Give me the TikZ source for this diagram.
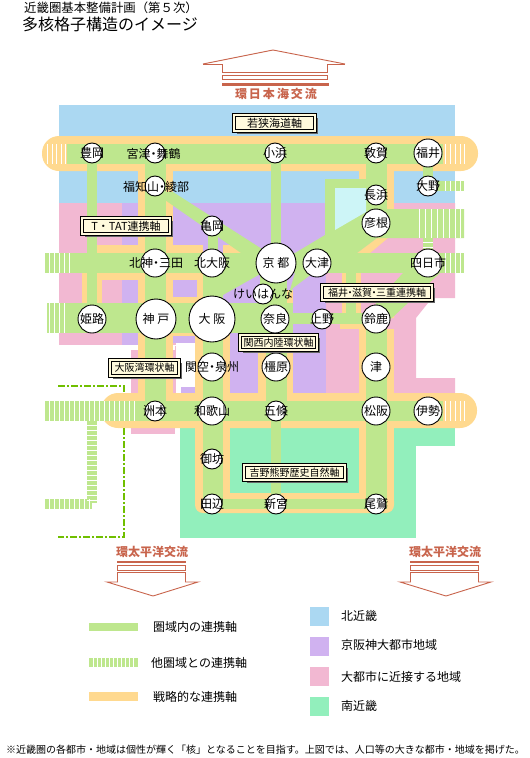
\documentclass[tikz,border=0pt]{standalone}
\usepackage{fontspec}
\newfontfamily\jp{Noto Sans CJK JP}
\usetikzlibrary{shadows}
\definecolor{cblue}{HTML}{ABD8F2}
\definecolor{cpurple}{HTML}{D0B2F0}
\definecolor{cpink}{HTML}{F2B8D2}
\definecolor{csouth}{HTML}{92EFBC}
\definecolor{clake}{HTML}{CDF5F7}
\definecolor{caxis}{HTML}{BEE78E}
\definecolor{cstrat}{HTML}{FFD98F}
\definecolor{ccoral}{HTML}{C8644C}
\definecolor{ccream}{HTML}{FFFADC}
\definecolor{cdash}{HTML}{70BF00}
\newcommand{\fs}[1]{\fontsize{#1}{#1}\selectfont}
\newcommand{\dt}{\kern-3pt・\kern-3pt}
\tikzset{
  blue region/.style={fill=cblue},
  purple region/.style={fill=cpurple},
  pink region/.style={fill=cpink},
  south region/.style={fill=csouth},
  axis/.style={fill=caxis},
  strat/.style={fill=cstrat},
  gap/.style={draw=white,line width=1pt},
  city/.style={circle,draw=black,fill=white,line width=0.9pt,inner sep=0pt,minimum size=2*#1 pt},
  citytext/.style={font=\jp\fs{12},inner sep=0pt,text=black},
  axislabel/.style={draw=black,double=ccream,double distance=1.3pt,line width=0.9pt,fill=ccream,inner sep=0pt,
    font=\jp\fs{#1},drop shadow={shadow xshift=2.5pt,shadow yshift=-2.5pt,fill=black!60,opacity=1}},
  outline/.style={draw=ccoral,line width=0.9pt},
  flowtext/.style={font=\jp\bfseries\fs{12},text=ccoral,inner sep=0pt},
  legendtext/.style={font=\jp\fs{12},anchor=west,inner sep=0pt},
  dashdot/.style={draw=cdash,line width=1.5pt,dash pattern=on 7pt off 2pt on 2pt off 2pt}
}
\begin{document}
\begin{tikzpicture}[x=1pt,y=-1pt]
\useasboundingbox (0,0) rectangle (530,758);
% regions
\fill[blue region] (59,105) rectangle (455,203);
\fill[pink region] (59,203) rectangle (122,345);
\fill[purple region] (122,203) rectangle (326,345);
\fill[purple region] (175,336) rectangle (326,345);
\fill[purple region] (230,333) rectangle (326,393);
\fill[purple region] (181,387) rectangle (195,393);
\fill[pink region] (326,203) -- (455,203) -- (455,298) -- (432,298) -- (416,318) -- (416,378) -- (455,378) -- (455,393) -- (326,393) -- cycle;
\fill[pink region] (131,350) rectangle (138,400);
\fill[pink region] (173,343) rectangle (175.5,393);
\fill[pink region] (131,425) rectangle (175,434);
\fill[white] (138,345) rectangle (230,345.5);
\fill[white] (122,345) rectangle (175,350);
\fill[white] (175.5,343) rectangle (195,387);
\fill[white] (175.5,387) rectangle (181,393);
\fill[south region] (180,426) rectangle (416,538);
\fill[south region] (416,426) rectangle (455,446);
% strategic axes
\fill[strat,rounded corners=17pt] (42,136) rectangle (478,171);
\fill[strat,rounded corners=17pt] (101,393) rectangle (477,428);
\fill[strat] (138,171) rectangle (173,393);
\fill[strat] (82,273) rectangle (203,280);
\fill[strat] (82,280) rectangle (102,303);
\fill[strat] (97,245) rectangle (138,253);
\fill[strat] (173,245) rectangle (203,253);
\fill[strat] (223,245) rectangle (243,253);
\fill[strat] (197,280) rectangle (203,303);
\fill[strat] (173,297) rectangle (197,303);
\fill[strat] (138,333) rectangle (195,336);
\fill[strat] (195,333) rectangle (230,393);
\fill[strat] (195,420) rectangle (230,505);
\fill[strat,rounded corners=8pt] (195,493) rectangle (394,513);
\fill[strat] (359,329) rectangle (394,505);
\fill[strat] (258,333) rectangle (293,393);
\fill[strat] (287,290) rectangle (293,333);
\fill[strat] (340,324) rectangle (366,329);
\fill[strat] (342,273) rectangle (361,313);
\fill[strat] (359,171) rectangle (394,209);
\fill[strat] (357,253) -- (370,253) -- (388,238) -- (377,238) -- cycle;
\fill[strat] (388,318) -- (394,318) -- (394,312) -- (412,296) -- (405,296) -- cycle;
% internal axes
\fill[axis] (67,144) rectangle (443,164);
\fill[axis] (45,253) rectangle (464,273);
\fill[axis] (47,303) rectangle (293,333);
\fill[axis] (293,313) rectangle (376,324);
\fill[axis] (45,401) rectangle (443,421);
\fill[axis] (87,164) rectangle (97,303);
\fill[axis] (145,164) rectangle (166,401);
\fill[axis] (271,164) rectangle (281,253);
\fill[axis] (208,226) rectangle (218,253);
\fill[axis] (203,253) rectangle (223,504);
\fill[axis] (266,333) rectangle (287,401);
\fill[axis] (271,421) rectangle (281,504);
\fill[axis] (366,164) rectangle (387,209);
\fill[axis] (366,319) rectangle (387,504);
\fill[axis] (203,499) rectangle (387,509);
\fill[axis] (346,273) rectangle (356,313);
\fill[axis] (260,273) rectangle (287,313);
\fill[axis] (423,164) rectangle (433,186);
\fill[axis] (428,181) rectangle (464,191);
\fill[axis] (165,192) -- (173,192) -- (262,249) -- (262,256) -- (241,253) -- (165,200) -- cycle;
\fill[axis] (223,273) -- (262,273) -- (223,295) -- cycle;
\fill[axis] (295,273) -- (313,273) -- (293,288) -- (287,300) -- cycle;
\fill[axis] (295,253) -- (325,235) -- (325,179) -- (366,179) -- (366,209) -- (464,209) -- (464,238) -- (377,238) -- (357,253) -- cycle;
\fill[clake] (335,188) -- (366,188) -- (366,212) -- (335,230) -- cycle;
\fill[axis] (423,238) rectangle (433,253);
\fill[axis] (403,273) -- (432,273) -- (440,273) -- (394,316) -- (387,322) -- (366,322) -- (378,300) -- cycle;
% stripes
\foreach \x in {47.5,52,56.5,61,65.5} \draw[gap] (\x,144) -- (\x,164);
\foreach \x in {445,450,455,460,464.5} \draw[gap] (\x,144) -- (\x,164);
\foreach \x in {49,54,59,64,69} \draw[gap] (\x,253) -- (\x,273);
\foreach \x in {445,450,455,460} \draw[gap] (\x,253) -- (\x,273);
\foreach \x in {49,54,59,64} \draw[gap] (\x,303) -- (\x,333);
\foreach \x in {445,450,455,460} \draw[gap] (\x,181) -- (\x,191);
\foreach \x in {419,425,431,437,443,449,455,460} \draw[gap] (\x,209) -- (\x,238);
\foreach \x in {445,450,455,460,464.5} \draw[gap] (\x,401) -- (\x,421);
\foreach \x in {49,54,59,64,69,74,79,84,89,94,99,104,109,114,119,124,129,134} \draw[gap] (\x,401) -- (\x,421);
\foreach \y in {242,247} \draw[gap] (423,\y) -- (433,\y);
% striped external axis
\fill[axis] (87,421) rectangle (97,503);
\fill[axis] (45,499) rectangle (92,509);
\foreach \y in {425,430,435,440,445,450,455,460,465,470,475,480,485,490,495,500} \draw[gap] (87,\y) -- (97,\y);
\foreach \x in {49,54,59,64,69,74,79,84,89} \draw[gap] (\x,499) -- (\x,509);
% dash-dot boundary
\draw[dashdot] (58,386) -- (124,386) -- (124,393);
\draw[dashdot] (124,428) -- (124,537) -- (58,537);
% cities
\foreach \n/\x/\y/\r in {toyooka/92/153/10,miyazu/155/153/10,obama/275/153/10,tsuruga/376/153/10,fukui/428/153/14,
  fukuchiyama/155/186/10,ono/428/186/10,nagahama/376/195/10,hikone/376/223/14,kameoka/212/226/10,
  kitakobe/155/263/14,kitaosaka/212/263/14,kyoto/276/263/20,otsu/317/263/14,yokkaichi/428/263/14,
  keihanna/263/294/10,himeji/92/319/14,kobe/156/319/20,osaka/212/319/23,nara/275/319/14,ueno/322/319/10,
  suzuka/376/319/14,kanku/212/367/14,kashihara/276/367/14,tsu/376/367/14,sumoto/155/411/10,
  wakayama/212/411/14,gojo/276/411/10,matsusaka/376/411/14,ise/428/411/14,gobo/212/459/10,
  tanabe/212/504/10,shingu/276/504/10,owase/376/504/10}
  \node[city=\r] (\n) at (\x,\y) {};
% city names
\foreach \x/\y/\t in {92/153/豊岡,153.5/154/宮津\dt 舞鶴,275/153/小浜,376/153/敦賀,428/153/福井,
  156/187/福知山\dt 綾部,428/186/大野,376/195/長浜,376/223/彦根,212/226/亀岡,
  156/263/北神\dt 三田,212/263/北大阪,276/263/京\ 都,317/263/大津,428/263/四日市,
  263/294/けいはんな,92/319/姫路,156/319/神\ 戸,212/319/大\ 阪,275/319/奈良,322/319/上野,
  376/319/鈴鹿,212/367/関空\dt 泉州,276/367/橿原,376/367/津,155/411/洲本,
  212/411/和歌山,276/411/五條,376/411/松阪,428/411/伊勢,212/459/御坊,
  212/504/田辺,276/504/新宮,376/504/尾鷲}
  \node[citytext] at (\x,\y) {\t};
% axis labels
\node[axislabel=11,minimum width=81pt,minimum height=16pt] (wakasa) at (274.5,123) {若狭海道軸};
\node[axislabel=11,minimum width=88pt,minimum height=16pt] (ttat) at (126,226) {T・TAT連携軸};
\node[axislabel=10,minimum width=110pt,minimum height=15pt] (fsm) at (377,292.5) {福井\dt 滋賀\dt 三重連携軸};
\node[axislabel=10,minimum width=77pt,minimum height=15pt] (naiiku) at (278.5,342.5) {関西内陸環状軸};
\node[axislabel=10,minimum width=69pt,minimum height=16pt] (osakawan) at (144.5,368) {大阪湾環状軸};
\node[axislabel=10,minimum width=101pt,minimum height=15pt] (yoshino) at (294.5,472.5) {吉野熊野歴史自然軸};
% top arrow
\draw[outline] (203,64) -- (273,50) -- (345,64);
\draw[outline] (203,64) -- (222,64) -- (222,72) -- (327,72) -- (327,64) -- (345,64);
\draw[outline] (222,75.5) rectangle (327,79.5);
\fill[ccoral] (222,83) rectangle (329,85.5);
\node[flowtext] (japansea) at (276,94) {環\,日\,本\,海\,交\,流};
% bottom arrows
\foreach \n/\d in {sw/0,se/293}{
  \begin{scope}[xshift=\d pt]
  \node[flowtext] (flow\n) at (152,552) {環太平洋交流};
  \fill[ccoral] (117,561) rectangle (186,563);
  \draw[outline] (117.5,565.5) rectangle (185.5,570);
  \draw[outline] (117.5,572.5) -- (185.5,572.5) -- (185.5,582) -- (198,582) -- (153,596) -- (107,582) -- (117.5,582) -- cycle;
  \end{scope}
}
% legend
\fill[axis] (89,623) rectangle (138,631);
\node[legendtext] (l1) at (153,627) {圏域内の連携軸};
\fill[axis] (89,658) rectangle (138,667);
\foreach \x in {93,97,101,105,109,113,117,121,125,129,133} \draw[gap] (\x,658) -- (\x,667);
\node[legendtext] (l2) at (151,663) {他圏域との連携軸};
\fill[strat] (89,692) rectangle (138,701);
\node[legendtext] (l3) at (153,697) {戦略的な連携軸};
\fill[blue region] (310,607) rectangle (329,626);
\node[legendtext] (r1) at (341,616) {北近畿};
\fill[purple region] (310,637) rectangle (329,656);
\node[legendtext] (r2) at (341,645) {京阪神大都市地域};
\fill[pink region] (310,667) rectangle (329,686);
\node[legendtext] (r3) at (341,677) {大都市に近接する地域};
\fill[south region] (310,697) rectangle (329,716);
\node[legendtext] (r4) at (341,706) {南近畿};
% titles
\node[font=\jp\fs{12.4},anchor=west,inner sep=0pt] (title1) at (24,8) {近畿圏基本整備計画（第５次）};
\node[font=\jp\fs{16},anchor=west,inner sep=0pt] (title2) at (22,24) {多核格子構造のイメージ};
\node[font=\jp\fs{10},anchor=west,inner sep=0pt] (note) at (6,750) {※近畿圏の各都市・地域は個性が輝く「核」となることを目指す。上図では、人口等の大きな都市・地域を掲げた。};
\end{tikzpicture}
\end{document}
